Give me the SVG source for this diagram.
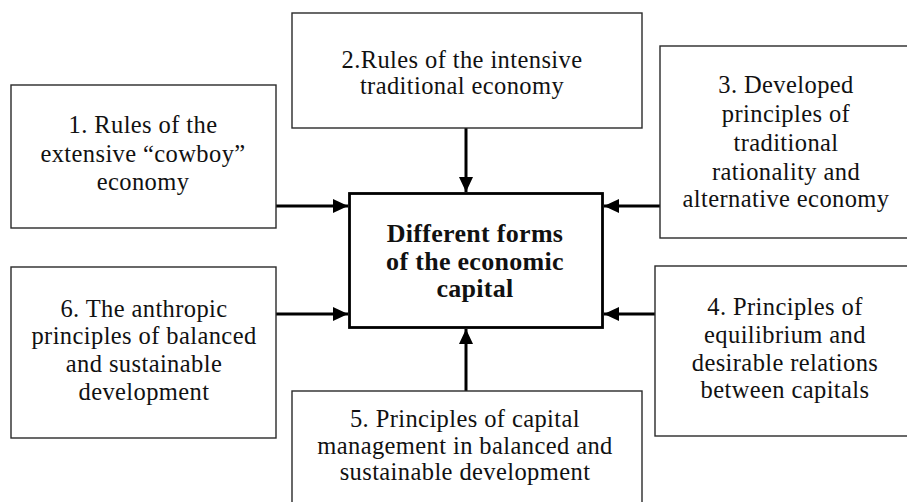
<svg xmlns="http://www.w3.org/2000/svg" width="907" height="502" viewBox="0 0 907 502">
  <style>
    .box { fill: #ffffff; stroke: #2a2a2a; stroke-width: 1.4; }
    .core { fill: #ffffff; stroke: #000000; stroke-width: 2.8; }
    .lbl { font-family: "Liberation Serif", "Times New Roman", serif; font-size: 24.5px; letter-spacing: 0.4px; fill: #111111; text-anchor: middle; }
    .bold { font-weight: bold; font-size: 26px; letter-spacing: 0.3px; }
    .link { stroke: #000000; stroke-width: 3; fill: none; marker-end: url(#head); }
  </style>
  <defs>
    <marker id="head" markerUnits="userSpaceOnUse" markerWidth="16" markerHeight="15" refX="15" refY="7" orient="auto">
      <path d="M0,0 L15,7 L0,14 z" fill="#000000"/>
    </marker>
  </defs>
  <rect width="907" height="502" fill="#ffffff"/>

  <!-- connectors into the central node -->
  <g id="connectors">
    <line class="link" x1="276" y1="206" x2="348" y2="206"/>
    <line class="link" x1="466" y1="128" x2="466" y2="192"/>
    <line class="link" x1="660" y1="206" x2="604" y2="206"/>
    <line class="link" x1="655" y1="314" x2="604" y2="314"/>
    <line class="link" x1="466" y1="391" x2="466" y2="329"/>
    <line class="link" x1="276" y1="314" x2="348" y2="314"/>
  </g>

  <g id="core">
    <rect class="core" x="349.5" y="193.5" width="253" height="134"/>
    <text class="lbl bold" x="475" y="242">Different forms</text>
    <text class="lbl bold" x="475" y="270">of the economic</text>
    <text class="lbl bold" x="475" y="297">capital</text>
  </g>

  <g id="node1">
    <rect class="box" x="11" y="85" width="265" height="143"/>
    <text class="lbl" x="143" y="133">1. Rules of the</text>
    <text class="lbl" x="143" y="162">extensive “cowboy”</text>
    <text class="lbl" x="143" y="190">economy</text>
  </g>

  <g id="node2">
    <rect class="box" x="292" y="13" width="350" height="115"/>
    <text class="lbl" x="462" y="68">2.Rules of the intensive</text>
    <text class="lbl" x="462" y="94">traditional economy</text>
  </g>

  <g id="node3">
    <rect class="box" x="660" y="46" width="250" height="192"/>
    <text class="lbl" x="786" y="93">3. Developed</text>
    <text class="lbl" x="786" y="122">principles of</text>
    <text class="lbl" x="786" y="151">traditional</text>
    <text class="lbl" x="786" y="180">rationality and</text>
    <text class="lbl" x="786" y="207">alternative economy</text>
  </g>

  <g id="node4">
    <rect class="box" x="655" y="266" width="255" height="170"/>
    <text class="lbl" x="785" y="315">4. Principles of</text>
    <text class="lbl" x="785" y="343">equilibrium and</text>
    <text class="lbl" x="785" y="371">desirable relations</text>
    <text class="lbl" x="785" y="398">between capitals</text>
  </g>

  <g id="node5">
    <rect class="box" x="292" y="391" width="350" height="120"/>
    <text class="lbl" x="465" y="427">5. Principles of capital</text>
    <text class="lbl" x="465" y="454">management in balanced and</text>
    <text class="lbl" x="465" y="480">sustainable development</text>
  </g>

  <g id="node6">
    <rect class="box" x="11" y="267" width="265" height="171"/>
    <text class="lbl" x="144" y="317">6. The anthropic</text>
    <text class="lbl" x="144" y="344">principles of balanced</text>
    <text class="lbl" x="144" y="372">and sustainable</text>
    <text class="lbl" x="144" y="400">development</text>
  </g>
</svg>
